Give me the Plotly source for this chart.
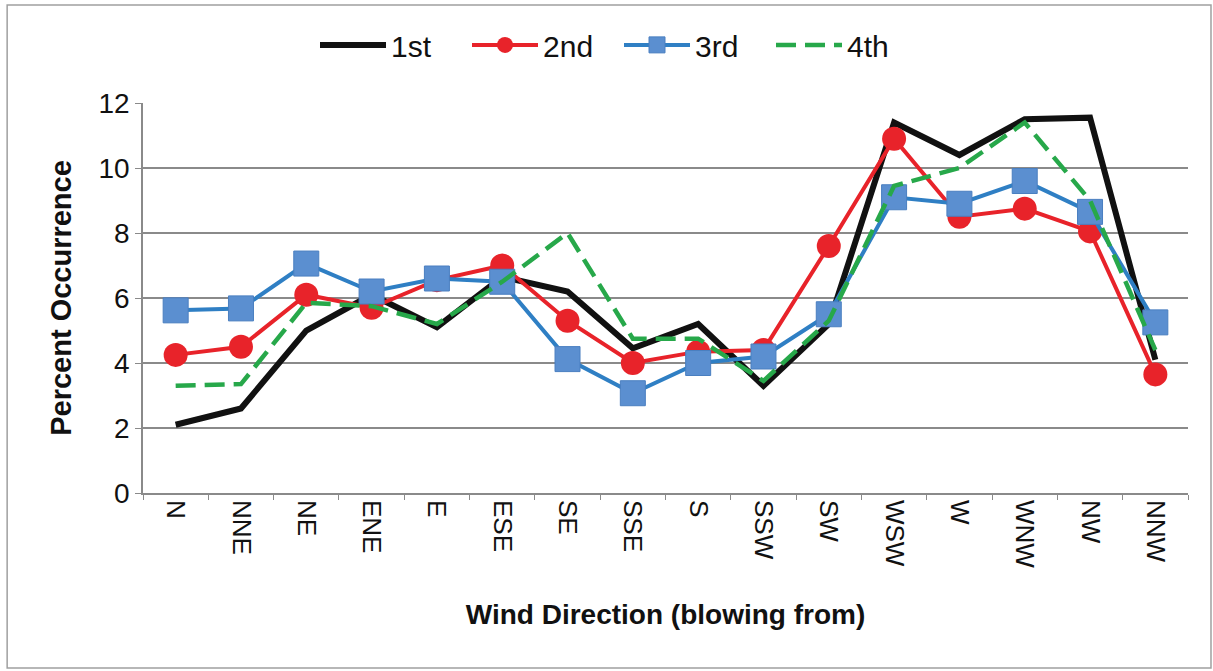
import plotly.graph_objects as go

directions = ["N", "NNE", "NE", "ENE", "E", "ESE", "SE", "SSE", "S", "SSW", "SW", "WSW", "W", "WNW", "NW", "NNW"]
first = [2.1, 2.6, 5.0, 6.1, 5.1, 6.65, 6.2, 4.45, 5.2, 3.3, 5.2, 11.4, 10.4, 11.5, 11.55, 4.1]
second = [4.25, 4.5, 6.1, 5.7, 6.55, 7.0, 5.3, 4.0, 4.35, 4.4, 7.6, 10.9, 8.5, 8.75, 8.05, 3.65]
third = [5.62, 5.68, 7.06, 6.2, 6.6, 6.5, 4.12, 3.07, 4.0, 4.2, 5.5, 9.1, 8.9, 9.6, 8.65, 5.25]
fourth = [3.3, 3.35, 5.85, 5.75, 5.2, 6.5, 8.0, 4.75, 4.75, 3.45, 5.3, 9.45, 10.0, 11.4, 9.0, 4.4]
y_ticks = [0, 2, 4, 6, 8, 10, 12]

fig = go.Figure()
fig.add_trace(go.Scatter(x=directions, y=first, name="1st", mode="lines",
                         line=dict(color="#111111", width=6)))
fig.add_trace(go.Scatter(x=directions, y=second, name="2nd", mode="lines+markers",
                         line=dict(color="#e8232a", width=4),
                         marker=dict(symbol="circle", size=24, color="#e8232a")))
fig.add_trace(go.Scatter(x=directions, y=third, name="3rd", mode="lines+markers",
                         line=dict(color="#2f7fc4", width=4),
                         marker=dict(symbol="square", size=25, color="#5b8fd0",
                                     line=dict(color="#4a7fc0", width=1))))
fig.add_trace(go.Scatter(x=directions, y=fourth, name="4th", mode="lines",
                         line=dict(color="#27a84a", width=4.5, dash="20px,9px")))

fig.update_layout(
    width=1213, height=671,
    margin=dict(l=143, r=25, t=103, b=178, autoexpand=False),
    paper_bgcolor="white", plot_bgcolor="white",
    font=dict(family="Liberation Sans, Arial, sans-serif", color="#111111"),
    legend=dict(orientation="h", x=0.1646, xanchor="left", y=1.149, yanchor="middle",
                font=dict(size=30), itemwidth=66, entrywidth=71, entrywidthmode="pixels",
                bgcolor="rgba(0,0,0,0)"),
    showlegend=True,
    shapes=[dict(type="rect", xref="paper", yref="paper",
                 x0=-0.130, x1=1.022, y0=-0.4487, y1=1.2513,
                 line=dict(color="#a0a0a0", width=1.5), fillcolor="rgba(0,0,0,0)", layer="below")],
)
fig.update_xaxes(
    type="category", range=[-0.5, 15.5],
    showline=True, linecolor="#8a8a8a", linewidth=1.5,
    ticks="outside", tickson="boundaries", ticklen=5, tickcolor="#8a8a8a",
    tickangle=90, tickfont=dict(size=26),
    showgrid=False,
    title=dict(text="<b>Wind Direction (blowing from)</b>", font=dict(size=28), standoff=37),
)
fig.update_yaxes(
    range=[0, 12], tickvals=y_ticks,
    showline=True, linecolor="#8a8a8a", linewidth=1.5,
    ticks="outside", ticklen=6, tickcolor="#8a8a8a",
    tickfont=dict(size=28),
    showgrid=True, gridcolor="#8a8a8a", gridwidth=1.5,
    zeroline=False,
    title=dict(text="<b>Percent Occurrence</b>", font=dict(size=29), standoff=18),
)
fig.write_html("out.html", config={"displayModeBar": False},
               post_script="document.body.style.margin='0';")
